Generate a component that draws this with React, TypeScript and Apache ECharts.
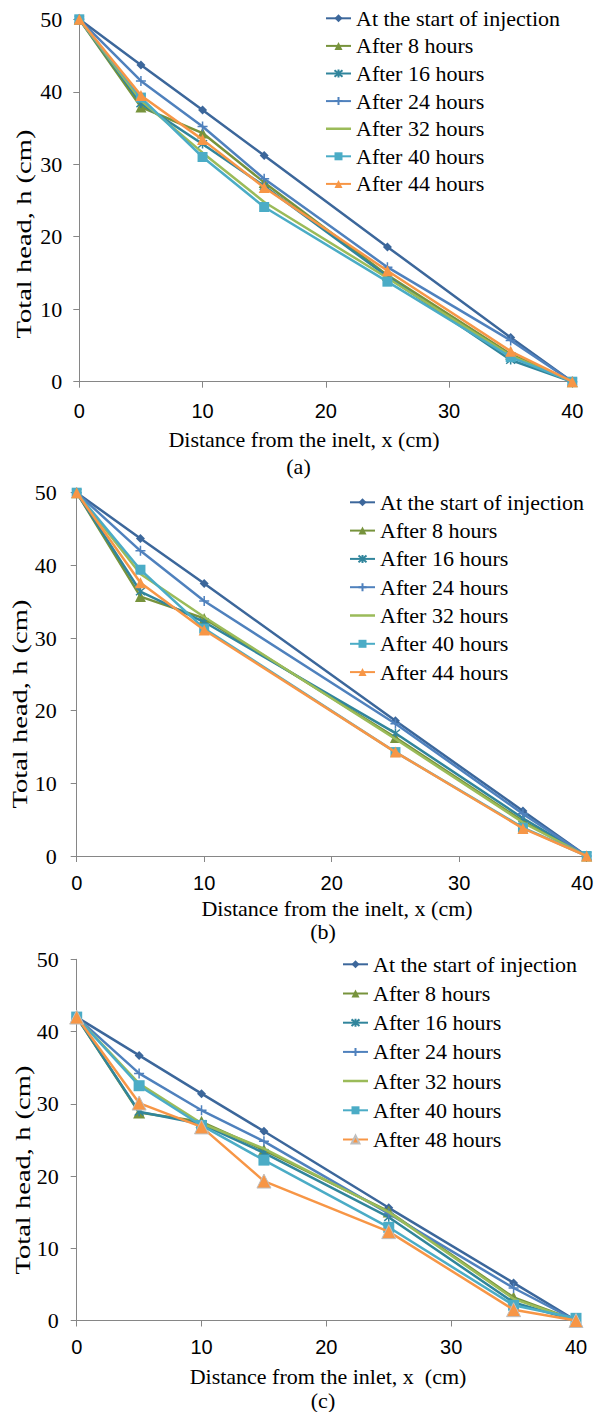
import React, { useEffect, useRef } from "react";
import * as echarts from "echarts";

const seriesNamesAB = [
  "At the start of injection",
  "After 8 hours",
  "After 16 hours",
  "After 24 hours",
  "After 32 hours",
  "After 40 hours",
  "After 44 hours",
];
const seriesNamesC = [
  "At the start of injection",
  "After 8 hours",
  "After 16 hours",
  "After 24 hours",
  "After 32 hours",
  "After 40 hours",
  "After 48 hours",
];

// Panel (a)
const xA = [0, 5, 10, 15, 25, 35, 40];
const aStart = [50, 43.7, 37.5, 31.2, 18.6, 6.1, 0];
const a8 = [50, 37.9, 34.3, 27.5, 14.7, 3.8, 0];
const a16 = [50, 38.4, 32.8, 27.0, 14.5, 3.0, 0];
const a24 = [50, 41.5, 35.2, 28.0, 15.8, 5.7, 0];
const a32 = [50, 38.8, 31.6, 24.8, 14.3, 3.6, 0];
const a40 = [50, 39.2, 31.0, 24.1, 13.8, 3.4, 0];
const a44 = [50, 39.5, 33.4, 26.8, 15.3, 4.2, 0];

// Panel (b)
const xB = [0, 5, 10, 25, 35, 40];
const bStart = [50, 43.7, 37.5, 18.6, 6.2, 0];
const b8 = [50, 35.7, 32.7, 16.3, 4.8, 0];
const b16 = [50, 36.4, 32.2, 16.9, 5.2, 0];
const b24 = [50, 42.0, 35.1, 18.2, 5.8, 0];
const b32 = [50, 38.8, 32.9, 16.1, 4.6, 0];
const b40 = [50, 39.4, 31.3, 14.3, 3.9, 0];
const b44 = [50, 37.6, 31.1, 14.3, 3.8, 0];

// Panel (c)
const xC = [0, 5, 10, 15, 25, 35, 40];
const cStart = [42, 36.7, 31.4, 26.2, 15.6, 5.2, 0];
const c8 = [42, 28.8, 27.5, 23.6, 15.1, 3.2, 0];
const c16 = [42, 28.9, 27.2, 23.2, 14.3, 2.5, 0];
const c24 = [42, 34.2, 29.1, 24.8, 14.8, 4.5, 0];
const c32 = [42, 32.8, 27.3, 23.8, 15.0, 3.0, 0];
const c40 = [42, 32.5, 27.0, 22.2, 12.9, 2.1, 0.3];
const c48 = [42, 30.1, 26.8, 19.3, 12.3, 1.5, 0];

const xTicks = [0, 10, 20, 30, 40];
const yTicks = [0, 10, 20, 30, 40, 50];

const colors = ["#3C679B", "#77933C", "#31859C", "#4F81BD", "#9BBB59", "#4BACC6", "#F79646"];

const ASTERISK = "path://M0,0L10,10M0,10L10,0M5,-1L5,11";
const PLUS = "path://M5,0L5,10M0,5L10,5";
const LINE_ONLY = "path://M0,0H25V0.01H0ZM0,3.75H25V6.25H0ZM0,9.99H25V10H0Z";

const symbols = ["diamond", "triangle", ASTERISK, PLUS, "none", "rect", "triangle"];
const symbolSizesAB = [9, 11, 9, 10, 0, 10, 11];
const symbolSizesC = [9, 12, 9, 10, 0, 11, 14];

const SERIF = "'Liberation Serif', 'Times New Roman', serif";
const SANS = "'Liberation Sans', Arial, sans-serif";

export default function App() {
  const ref = useRef<HTMLDivElement>(null);

  useEffect(() => {
    if (!ref.current) return;
    const chart = echarts.init(ref.current, undefined, { renderer: "svg" });

    const grids = [
      { left: 79.3, top: 19.3, width: 493, height: 362.4 },
      { left: 76.7, top: 492.7, width: 510, height: 363.3 },
      { left: 76.7, top: 959.3, width: 499.3, height: 361.2 },
    ];

    const panels = [
      { names: seriesNamesAB, xs: xA, data: [aStart, a8, a16, a24, a32, a40, a44], sizes: symbolSizesAB },
      { names: seriesNamesAB, xs: xB, data: [bStart, b8, b16, b24, b32, b40, b44], sizes: symbolSizesAB },
      { names: seriesNamesC, xs: xC, data: [cStart, c8, c16, c24, c32, c40, c48], sizes: symbolSizesC },
    ];

    const axisLine = { show: true, lineStyle: { color: "#868686", width: 1 } };
    const axisTick = { show: true, length: 6, lineStyle: { color: "#868686", width: 1 } };

    const xAxis = grids.map((_, i) => ({
      type: "value",
      gridIndex: i,
      min: xTicks[0],
      max: xTicks[xTicks.length - 1],
      interval: xTicks[1] - xTicks[0],
      axisLine,
      axisTick,
      splitLine: { show: false },
      axisLabel: {
        fontFamily: SANS,
        fontSize: 20,
        color: "#000",
        margin: [19, 17, 16][i],
        formatter: (v: number) => (i === 1 && v === 40 ? "{r|40}" : String(v)),
        rich: {
          r: { fontFamily: SANS, fontSize: 20, color: "#000", padding: [0, 9, 0, 0] },
        },
      },
    }));

    const yAxis = grids.map((_, i) => ({
      type: "value",
      gridIndex: i,
      min: yTicks[0],
      max: yTicks[yTicks.length - 1],
      interval: yTicks[1] - yTicks[0],
      axisLine,
      axisTick,
      splitLine: { show: false },
      axisLabel: {
        fontFamily: SERIF,
        fontSize: 22,
        color: "#000",
        margin: [17, 20, 18][i],
      },
    }));

    const series: any[] = [];
    panels.forEach((p, pi) => {
      p.names.forEach((name, si) => {
        const isStroke = si === 2 || si === 3;
        const grayEdge = pi === 2 && si === 6;
        series.push({
          type: "line",
          name,
          xAxisIndex: pi,
          yAxisIndex: pi,
          data: p.xs.map((x, j) => [x, p.data[si][j]]),
          symbol: symbols[si],
          symbolSize: p.sizes[si],
          showSymbol: si !== 4,
          lineStyle: { color: colors[si], width: 2.5 },
          itemStyle: {
            color: colors[si],
            borderColor: grayEdge ? "#BFBFBF" : colors[si],
            borderWidth: isStroke ? 1.5 : grayEdge ? 1 : 0,
          },
          emphasis: { disabled: true },
          z: 2 + si,
        });
      });
    });

    const legendPos = [
      { left: 325, top: 7.3, gap: 5.6, w: 25 },
      { left: 349, top: 491.3, gap: 6.3, w: 25 },
      { left: 342, top: 953.3, gap: 7.2, w: 25 },
    ];

    const legend = panels.map((p, i) => ({
      show: true,
      orient: "vertical",
      left: legendPos[i].left,
      top: legendPos[i].top,
      itemGap: legendPos[i].gap,
      itemWidth: legendPos[i].w,
      itemHeight: 10,
      padding: 0,
      data: p.names.map((n, si) => (si === 4 ? { name: n, icon: LINE_ONLY } : n)),
      selectedMode: false,
      textStyle: { fontFamily: SERIF, fontSize: 22, color: "#000", lineHeight: 22 },
    }));

    const textEl = (text: string, x: number, y: number, extra: any = {}) => ({
      type: "text",
      x,
      y,
      ...extra,
      style: {
        text,
        fontFamily: SERIF,
        fontSize: 22,
        fill: "#000",
        textAlign: "center",
        textVerticalAlign: "middle",
      },
    });

    const graphic = [
      textEl("Total head, h (cm)", 24, 234, { rotation: Math.PI / 2, scaleX: 1.3 }),
      textEl("Distance from the inelt, x (cm)", 304, 439.5),
      textEl("(a)", 298.5, 466.5),
      textEl("Total head, h (cm)", 20, 704, { rotation: Math.PI / 2, scaleX: 1.3 }),
      textEl("Distance from the inelt, x (cm)", 337, 908.3),
      textEl("(b)", 323, 931.7),
      textEl("Total head, h (cm)", 22.3, 1170, { rotation: Math.PI / 2, scaleX: 1.3 }),
      textEl("Distance from the inlet, x  (cm)", 328, 1376),
      textEl("(c)", 323, 1400.7),
    ];

    chart.setOption({
      animation: false,
      backgroundColor: "#fff",
      grid: grids.map((g) => ({ ...g, containLabel: false, outerBoundsMode: "none" })),
      xAxis,
      yAxis,
      legend,
      series,
      graphic,
    } as any);

    return () => chart.dispose();
  }, []);

  return (
    <div
      ref={ref}
      style={{ position: "absolute", left: 0, top: 0, width: 595, height: 1412, background: "#fff" }}
    />
  );
}
